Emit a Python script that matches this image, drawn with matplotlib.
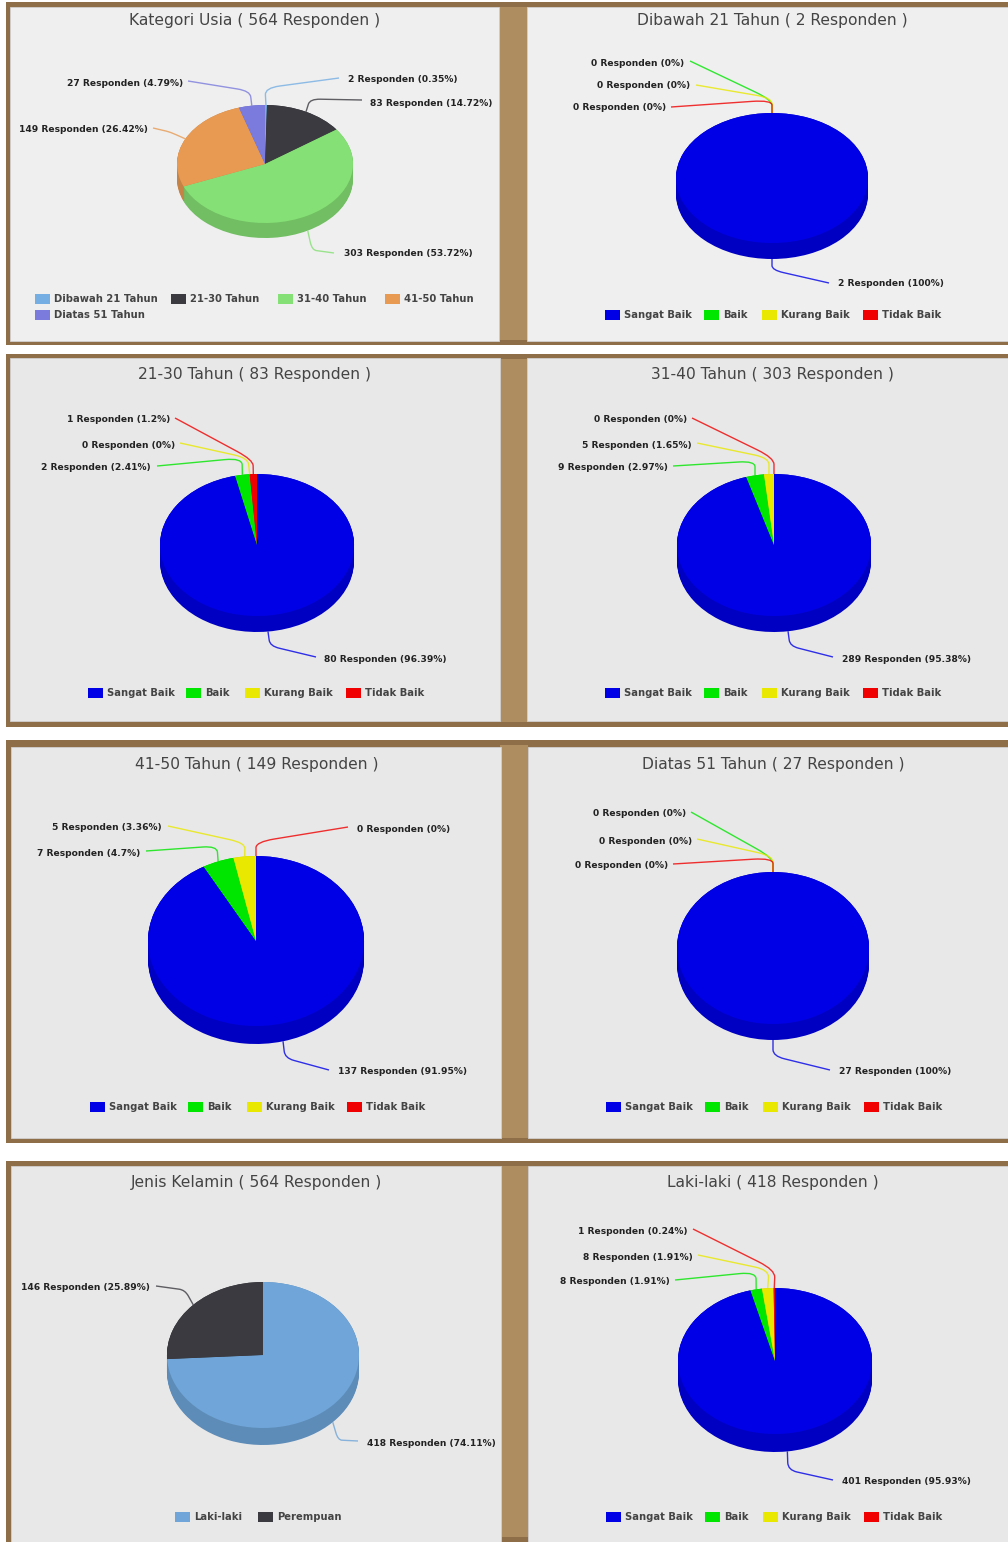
import matplotlib
matplotlib.use("Agg")
import numpy as np
import matplotlib.pyplot as plt
from matplotlib.patches import Rectangle, PathPatch
from matplotlib.path import Path
from matplotlib.colors import to_rgb

W, H = 1008, 1542

# data
usia_names = ["Dibawah 21 Tahun", "21-30 Tahun", "31-40 Tahun", "41-50 Tahun", "Diatas 51 Tahun"]
rating_names = ["Sangat Baik", "Baik", "Kurang Baik", "Tidak Baik"]
kelamin_names = ["Laki-laki", "Perempuan"]

usia_values = [2, 83, 303, 149, 27]
usia_pct = ["0.35", "14.72", "53.72", "26.42", "4.79"]
u21_values = [2, 0, 0, 0]
u21_pct = ["100", "0", "0", "0"]
u30_values = [80, 2, 0, 1]
u30_pct = ["96.39", "2.41", "0", "1.2"]
u40_values = [289, 9, 5, 0]
u40_pct = ["95.38", "2.97", "1.65", "0"]
u50_values = [137, 7, 5, 0]
u50_pct = ["91.95", "4.7", "3.36", "0"]
u51_values = [27, 0, 0, 0]
u51_pct = ["100", "0", "0", "0"]
kelamin_values = [418, 146]
kelamin_pct = ["74.11", "25.89"]
laki_values = [401, 8, 8, 1]
laki_pct = ["95.93", "1.91", "1.91", "0.24"]

usia_colors = ["#74aee3", "#3a3a40", "#85e075", "#e89a52", "#7a7bdd"]
rating_colors = ["#0000e6", "#00e600", "#e8e800", "#f00000"]
kelamin_colors = ["#6fa5d8", "#3a3a40"]

# layout, all in pixels of the final image
panels = [
    dict(title="Kategori Usia ( 564 Responden )", names=usia_names, values=usia_values, pct=usia_pct,
         colors=usia_colors, box=(10, 7, 489, 334), bg="#efefef", title_xy=(255, 21),
         pie=(265, 164, 88, 59, 15),
         labels=[("l", 348, 80, 339, 78, 265, 88), ("l", 370, 103, 362, 100, 310, 99),
                 ("l", 344, 254, 334, 253, 312, 250), ("r", 148, 130, 153, 128, 170, 132),
                 ("r", 183, 83, 188, 81, 250, 91)],
         legend=[(35, 299), (171, 299), (278, 299), (385, 299), (35, 315)]),
    dict(title="Dibawah 21 Tahun ( 2 Responden )", names=rating_names, values=u21_values, pct=u21_pct,
         colors=rating_colors, box=(527, 7, 481, 334), bg="#efefef", title_xy=(772, 21),
         pie=(772, 178, 96, 65, 16),
         labels=[("l", 838, 284, 829, 283, 772, 270), ("r", 684, 63, 690, 61, 772, 100),
                 ("r", 690, 86, 696, 85, 772, 98), ("r", 666, 108, 671, 107, 772, 100)],
         legend=[(605, 315), (704, 315), (762, 315), (863, 315)]),
    dict(title="21-30 Tahun ( 83 Responden )", names=rating_names, values=u30_values, pct=u30_pct,
         colors=rating_colors, box=(10, 358, 490, 363), bg="#e8e8e8", title_xy=(255, 374),
         pie=(257, 545, 97, 71, 16),
         labels=[("l", 324, 660, 316, 657, 270, 646), ("r", 151, 468, 157, 466, 242, 458),
                 ("r", 175, 445, 180, 443, 248, 458), ("r", 170, 420, 175, 418, 253, 460)],
         legend=[(88, 693), (186, 693), (245, 693), (346, 693)]),
    dict(title="31-40 Tahun ( 303 Responden )", names=rating_names, values=u40_values, pct=u40_pct,
         colors=rating_colors, box=(527, 358, 481, 363), bg="#e8e8e8", title_xy=(772, 374),
         pie=(774, 545, 97, 71, 16),
         labels=[("l", 842, 660, 833, 657, 790, 646), ("r", 668, 468, 673, 466, 755, 461),
                 ("r", 692, 445, 697, 443, 769, 458), ("r", 687, 420, 692, 418, 774, 458)],
         legend=[(605, 693), (704, 693), (762, 693), (863, 693)]),
    dict(title="41-50 Tahun ( 149 Responden )", names=rating_names, values=u50_values, pct=u50_pct,
         colors=rating_colors, box=(11, 747, 490, 391), bg="#e8e8e8", title_xy=(257, 765),
         pie=(256, 941, 108, 85, 18),
         labels=[("l", 338, 1071, 329, 1070, 285, 1058), ("r", 140, 853, 146, 851, 217, 846),
                 ("r", 162, 827, 168, 826, 245, 843), ("l", 357, 829, 348, 827, 256, 842)],
         legend=[(90, 1107), (188, 1107), (247, 1107), (347, 1107)]),
    dict(title="Diatas 51 Tahun ( 27 Responden )", names=rating_names, values=u51_values, pct=u51_pct,
         colors=rating_colors, box=(528, 747, 480, 391), bg="#e8e8e8", title_xy=(773, 765),
         pie=(773, 948, 96, 76, 16),
         labels=[("l", 839, 1071, 830, 1070, 773, 1056), ("r", 686, 814, 691, 812, 773, 858),
                 ("r", 692, 841, 697, 839, 773, 856), ("r", 668, 866, 673, 864, 773, 858)],
         legend=[(606, 1107), (705, 1107), (763, 1107), (864, 1107)]),
    dict(title="Jenis Kelamin ( 564 Responden )", names=kelamin_names, values=kelamin_values, pct=kelamin_pct,
         colors=kelamin_colors, box=(11, 1166, 490, 376), bg="#e8e8e8", title_xy=(256, 1183),
         pie=(263, 1355, 96, 73, 17),
         labels=[("l", 367, 1444, 358, 1441, 338, 1440), ("r", 150, 1288, 156, 1286, 185, 1290)],
         legend=[(175, 1517), (258, 1517)]),
    dict(title="Laki-laki ( 418 Responden )", names=rating_names, values=laki_values, pct=laki_pct,
         colors=rating_colors, box=(528, 1166, 480, 376), bg="#e8e8e8", title_xy=(773, 1183),
         pie=(775, 1361, 97, 73, 18),
         labels=[("l", 842, 1482, 833, 1480, 788, 1470), ("r", 670, 1282, 675, 1280, 756, 1272),
                 ("r", 693, 1257, 698, 1255, 769, 1270), ("r", 688, 1231, 693, 1229, 775, 1270)],
         legend=[(606, 1517), (705, 1517), (763, 1517), (864, 1517)]),
]

# wood frame of each row: top, bottom
rows = [(2, 345), (354, 727), (740, 1143), (1161, 1542)]


def darker(color, f=0.85):
    return tuple(c * f for c in to_rgb(color))


def draw_pie(fig, p):
    cx, cy, rx, ry, depth = p["pie"]
    # axes in units of the pie radius, with room below for the side
    pad = 1.1
    d = depth / ry
    ax = fig.add_axes([(cx - pad * rx) / W, 1 - (cy + (pad + d) * ry) / H,
                       2 * pad * rx / W, (2 * pad + d) * ry / H], zorder=2)
    dark = [darker(c) for c in p["colors"]]
    for off in np.linspace(d, 0, depth + 1):
        ax.pie(p["values"], colors=dark, startangle=90, counterclock=False,
               center=(0, -off), radius=1, wedgeprops=dict(linewidth=0))
    ax.pie(p["values"], colors=p["colors"], startangle=90, counterclock=False,
           radius=1, wedgeprops=dict(linewidth=0))
    ax.set_aspect("auto")
    ax.set_xlim(-pad, pad)
    ax.set_ylim(-pad - d, pad)
    ax.axis("off")


def draw_labels(ax, p):
    cx, cy, rx, ry, depth = p["pie"]
    vals = np.array(p["values"], dtype=float)
    stops = np.cumsum(vals) / vals.sum() * 2 * np.pi
    mids = stops - vals / vals.sum() * np.pi
    for i, (side, tx, ty, ex, ey, bx, by) in enumerate(p["labels"]):
        sx = cx + rx * np.sin(mids[i])
        sy = cy - ry * np.cos(mids[i])
        if np.cos(mids[i]) < 0:
            sy += depth
        start = np.array([sx, sy])
        bend = np.array([bx, by])
        end = np.array([ex, ey])
        verts = [start, start + 0.6 * (bend - start), bend, bend + 0.2 * (end - bend), end]
        codes = [Path.MOVETO, Path.LINETO, Path.CURVE3, Path.CURVE3, Path.LINETO]
        ax.add_patch(PathPatch(Path(verts, codes), fill=False, lw=1.0,
                               edgecolor=p["colors"][i], alpha=0.8, zorder=3))
        txt = f"{p['values'][i]} Responden ({p['pct'][i]}%)"
        ax.text(tx, ty, txt, ha="left" if side == "l" else "right", va="center",
                fontsize=6.6, fontweight="bold", color="#222222", zorder=4)


fig = plt.figure(figsize=(W / 100, H / 100), dpi=100, facecolor="white")
bg = fig.add_axes([0, 0, 1, 1], zorder=1)
bg.set_xlim(0, W)
bg.set_ylim(H, 0)
bg.axis("off")
top = fig.add_axes([0, 0, 1, 1], zorder=3)
top.set_xlim(0, W)
top.set_ylim(H, 0)
top.axis("off")

for y0, y1 in rows:
    bg.add_patch(Rectangle((6, y0), W - 6, y1 - y0, fc="#8d6e48", lw=0))
    bg.add_patch(Rectangle((500, y0 + 5), 28, y1 - y0 - 10, fc="#ae8d60", lw=0))

for p in panels:
    x, y, w, h = p["box"]
    bg.add_patch(Rectangle((x, y), w, h, fc=p["bg"], ec="#d0d0d0", lw=0.6))
    top.text(*p["title_xy"], p["title"], ha="center", va="center", fontsize=11.2, color="#444444")
    draw_pie(fig, p)
    draw_labels(top, p)
    for (lx, ly), name, col in zip(p["legend"], p["names"], p["colors"]):
        top.add_patch(Rectangle((lx, ly - 5), 15, 10, fc=col, lw=0))
        top.text(lx + 19, ly, name, ha="left", va="center", fontsize=7.2,
                 fontweight="bold", color="#444444")

fig.savefig("out.png", dpi=100)
plt.close(fig)
